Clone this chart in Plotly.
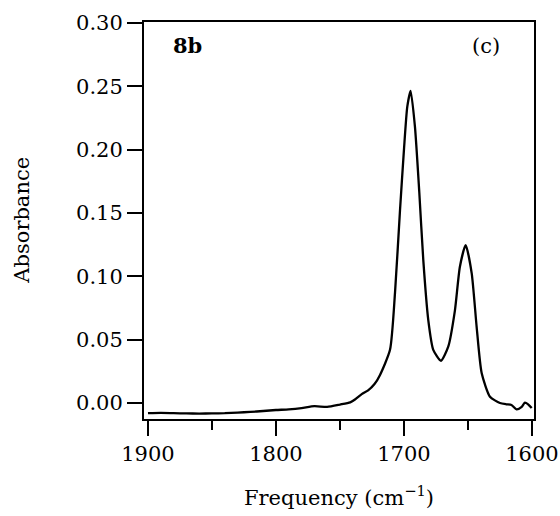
import plotly.graph_objects as go

freq = [1900, 1890, 1880, 1870, 1860, 1850, 1840, 1830, 1820, 1810, 1800, 1790, 1780, 1770,
        1760, 1750, 1742, 1738, 1733, 1728, 1723, 1718.8, 1710.9, 1707, 1703.1, 1700, 1697.4,
        1694.8, 1691.4, 1688, 1684.9, 1681, 1677.1, 1671.1, 1665.4, 1660.2, 1656.3, 1651.8,
        1647.1, 1643.2, 1639.3, 1632.8, 1625, 1620, 1616, 1612, 1608, 1605.5, 1603, 1600.2]
absorb = [-0.008, -0.0078, -0.008, -0.0082, -0.0083, -0.0082, -0.008, -0.0075, -0.007, -0.0063,
          -0.0055, -0.005, -0.004, -0.0025, -0.003, -0.0012, 0.0005, 0.003, 0.007, 0.010, 0.015,
          0.022, 0.042, 0.087, 0.152, 0.200, 0.234, 0.2465, 0.218, 0.166, 0.113, 0.0655, 0.042,
          0.0334, 0.0445, 0.073, 0.1076, 0.1247, 0.1026, 0.060, 0.0237, 0.005, 0.000, -0.001,
          -0.0015, -0.005, -0.003, 0.0003, -0.001, -0.004]

xticks = [1900, 1800, 1700, 1600]
yticks = [0.00, 0.05, 0.10, 0.15, 0.20, 0.25, 0.30]

font = "DejaVu Serif"
fs = 21

fig = go.Figure()
fig.add_trace(go.Scatter(x=freq, y=absorb, mode="lines",
                         line=dict(color="black", width=2.3, shape="spline", smoothing=0.6),
                         hoverinfo="skip"))

fig.update_layout(
    width=560, height=516,
    margin=dict(l=144, r=26, t=22, b=97),
    paper_bgcolor="white", plot_bgcolor="white",
    showlegend=False,
    font=dict(family=font, size=fs, color="black"),
    xaxis=dict(range=[1903.1, 1598.4], tickvals=xticks, ticktext=[str(v) for v in xticks],
               ticks="outside", ticklen=15, tickwidth=2, tickcolor="black", automargin=False,
               minor=dict(dtick=50, tick0=1600, ticks="outside", ticklen=9, tickwidth=2, tickcolor="black"),
               showline=True, linewidth=2, linecolor="black", mirror=True,
               showgrid=False, zeroline=False, tickfont=dict(size=fs)),
    yaxis=dict(range=[-0.0126, 0.3008], tickvals=yticks, ticktext=[f"{v:.2f}" for v in yticks],
               ticks="outside", ticklen=15, tickwidth=2, tickcolor="black", automargin=False,
               showline=True, linewidth=2, linecolor="black", mirror=True,
               showgrid=False, zeroline=False, tickfont=dict(size=fs)),
    annotations=[
        dict(text="Absorbance", xref="paper", yref="paper", x=-0.315, y=0.5, textangle=-90,
             showarrow=False, font=dict(size=fs), xanchor="center", yanchor="middle"),
        dict(text="Frequency (cm<sup>−1</sup>)", xref="paper", yref="paper", x=0.5, y=-0.195,
             showarrow=False, font=dict(size=fs), xanchor="center", yanchor="middle"),
        dict(text="<b>8b</b>", xref="paper", yref="paper", x=0.07, y=0.94,
             showarrow=False, font=dict(size=fs), xanchor="left", yanchor="middle"),
        dict(text="(c)", xref="paper", yref="paper", x=0.835, y=0.94,
             showarrow=False, font=dict(size=fs), xanchor="left", yanchor="middle"),
    ],
)

fig.write_html("out.html")
